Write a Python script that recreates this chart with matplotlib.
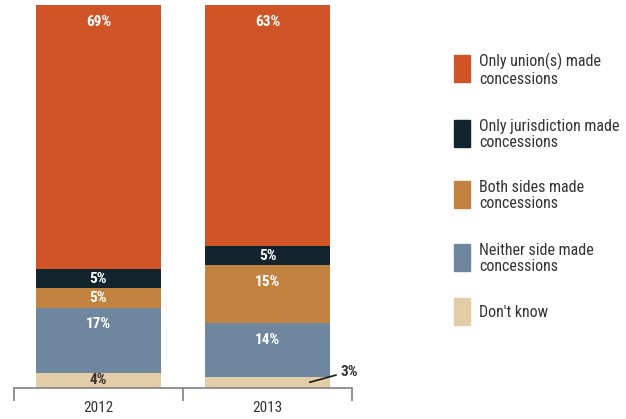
import matplotlib.pyplot as plt
from matplotlib.patches import Rectangle
import numpy as np

plt.rcParams['font.family'] = ['Roboto Condensed', 'Archivo Narrow', 'Liberation Sans Narrow', 'DejaVu Sans']

years = ['2012', '2013']
categories = ['Don\'t know', 'Neither side made\nconcessions', 'Both sides made\nconcessions',
              'Only jurisdiction made\nconcessions', 'Only union(s) made\nconcessions']
dont_know = [4, 3]
neither = [17, 14]
both = [5, 15]
jurisdiction = [5, 5]
union_only = [69, 63]
colors = ['#e2cda7', '#6f879e', '#c1833f', '#12252e', '#d15427']
label_colors = ['#333333', 'white', 'white', 'white', 'white']

series = [dont_know, neither, both, jurisdiction, union_only]

W, H = 626, 419
fig = plt.figure(figsize=(W / 100, H / 100), dpi=100)
ax = fig.add_axes([14 / W, 31 / H, 338 / W, 383 / H])

x = np.arange(len(years))
bottom = np.zeros(len(years))
for vals, col, lc in zip(series, colors, label_colors):
    vals = np.array(vals, dtype=float)
    ax.bar(x, vals, 0.734, bottom=bottom, color=col)
    for xi, v, b in zip(x, vals, bottom):
        top = b + v
        if v < 4:
            # small slice: label off to the side with a leader line
            ax.annotate(f'{v:.0f}%', xy=(xi + 0.25, b + v / 2), xytext=(xi + 0.43, b + v + 1.3),
                        fontsize=11, fontweight='bold', color='#333333',
                        ha='left', va='center', annotation_clip=False,
                        arrowprops=dict(arrowstyle='-', color='#222222', lw=1.3,
                                        shrinkA=1, shrinkB=0))
            continue
        ypos = top - min(4.4, v / 2)
        ax.text(xi, ypos, f'{v:.0f}%', ha='center', va='center', fontsize=11,
                fontweight='bold', color=lc)
    bottom += vals

ax.set_xlim(-0.5, 1.5)
ax.set_ylim(0, 100)
for s in ['left', 'right', 'top']:
    ax.spines[s].set_visible(False)
ax.spines['bottom'].set_color('#8a8a8a')
ax.spines['bottom'].set_linewidth(1.3)
ax.set_yticks([])
ax.set_xticks(x)
ax.set_xticklabels(years, fontsize=11, color='#333333')
ax.tick_params(axis='x', which='major', length=0, pad=9)
ax.set_xticks([-0.5, 0.5, 1.5], minor=True)
ax.tick_params(axis='x', which='minor', length=9, width=1.3, color='#8a8a8a')

# legend, top entry first
legend_tops = [55, 120, 181, 244, 298]
for top, col, name in zip(legend_tops, colors[::-1], categories[::-1]):
    fig.patches.append(Rectangle((454 / W, 1 - (top + 27) / H), 16 / W, 27 / H,
                                 transform=fig.transFigure, color=col))
    fig.text(479 / W, 1 - (top + 14.5) / H, name, ha='left', va='center',
             fontsize=11.5, linespacing=1.15, color='#333333')

fig.savefig('out.png', dpi=100)
